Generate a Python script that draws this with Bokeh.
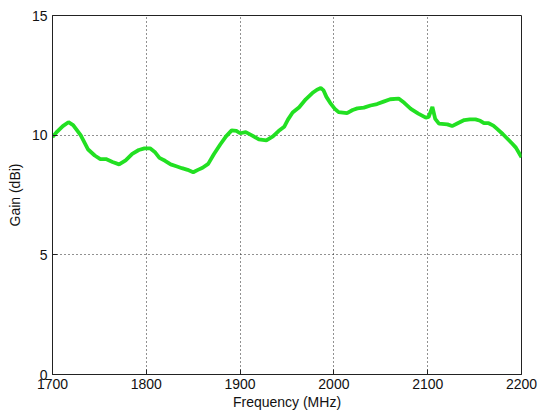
from bokeh.plotting import figure
from bokeh.models import Range1d, FixedTicker
from bokeh.embed import file_html
from bokeh.resources import INLINE

freq_mhz = [1700, 1705, 1711, 1717, 1722, 1730, 1738, 1745, 1751, 1757, 1764, 1771,
            1778, 1785, 1792, 1798, 1804, 1809, 1814, 1820, 1826, 1832, 1838, 1844,
            1850, 1855, 1860, 1866, 1872, 1879, 1885, 1891, 1896, 1900, 1906, 1913,
            1920, 1928, 1935, 1941, 1947, 1951, 1956, 1963, 1970, 1977, 1982, 1986,
            1989, 1992, 1996, 2001, 2005, 2014, 2020, 2025, 2032, 2039, 2046, 2053,
            2060, 2069, 2075, 2082, 2090, 2098, 2101, 2105, 2108, 2112, 2121, 2126,
            2132, 2139, 2145, 2151, 2156, 2160, 2165, 2170, 2174, 2180, 2185, 2190,
            2194, 2200]
gain_dbi = [9.92, 10.15, 10.38, 10.54, 10.42, 10.0, 9.4, 9.15, 9.0, 9.0, 8.88, 8.78,
            8.95, 9.22, 9.38, 9.45, 9.45, 9.3, 9.05, 8.93, 8.78, 8.7, 8.62, 8.55,
            8.45, 8.55, 8.64, 8.8, 9.2, 9.62, 9.95, 10.2, 10.18, 10.08, 10.13, 9.98,
            9.82, 9.78, 9.95, 10.17, 10.35, 10.65, 10.95, 11.17, 11.5, 11.76, 11.9, 11.97,
            11.87, 11.6, 11.35, 11.1, 10.96, 10.92, 11.05, 11.12, 11.15, 11.24, 11.3, 11.4,
            11.5, 11.53, 11.35, 11.1, 10.9, 10.73, 10.76, 11.18, 10.68, 10.48, 10.45, 10.38,
            10.5, 10.63, 10.66, 10.66, 10.6, 10.5, 10.5, 10.4, 10.26, 10.05, 9.85, 9.65,
            9.48, 9.08]

x_ticks = [1700, 1800, 1900, 2000, 2100, 2200]
y_ticks = [0, 5, 10, 15]

FONT = "Liberation Sans"

p = figure(width=539, height=413, output_backend="svg", toolbar_location=None,
           x_range=Range1d(1700, 2200), y_range=Range1d(0, 15),
           min_border_left=52, min_border_right=18, min_border_top=15, min_border_bottom=39)
p.background_fill_color = "white"
p.border_fill_color = "white"
p.outline_line_color = "#222222"
p.outline_line_width = 1

p.line(freq_mhz, gain_dbi, line_color="#22E022", line_width=3.8)

for ax in (p.xaxis[0], p.yaxis[0]):
    ax.axis_line_color = "#222222"
    ax.major_tick_line_color = "#222222"
    ax.major_tick_in = 5
    ax.major_tick_out = 0
    ax.minor_tick_line_color = None
    ax.major_label_text_font = FONT
    ax.major_label_text_font_size = "14px"
    ax.major_label_text_color = "#111111"
    ax.axis_label_text_font = FONT
    ax.axis_label_text_font_size = "14px"
    ax.axis_label_text_font_style = "normal"
    ax.axis_label_text_color = "#111111"

p.xaxis[0].major_label_standoff = 4
p.xaxis[0].axis_label_standoff = 2
p.yaxis[0].major_label_standoff = 5
p.yaxis[0].axis_label_standoff = 6

p.xaxis[0].ticker = FixedTicker(ticks=x_ticks)
p.yaxis[0].ticker = FixedTicker(ticks=y_ticks)
p.xaxis[0].axis_label = "Frequency (MHz)"
p.yaxis[0].axis_label = "Gain (dBi)"

for g in (p.xgrid[0], p.ygrid[0]):
    g.grid_line_color = "#222222"
    g.grid_line_dash = "1 3"
    g.grid_line_width = 1
p.xgrid[0].ticker = FixedTicker(ticks=x_ticks)
p.ygrid[0].ticker = FixedTicker(ticks=y_ticks)

open("out.html", "w").write(file_html(p, INLINE))
